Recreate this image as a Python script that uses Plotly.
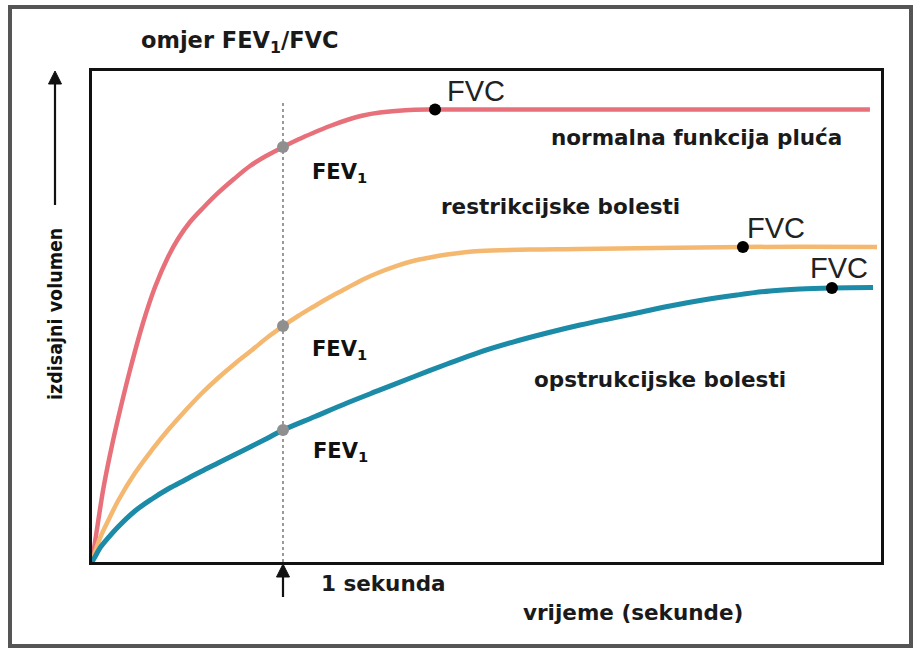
import plotly.graph_objects as go

# ---------------- data (time in seconds, exhaled volume in litres) ----------------
normal_t = [0.0, 0.031, 0.058, 0.094, 0.131, 0.199, 0.267, 0.330, 0.398, 0.450, 0.513, 0.586,
            0.660, 0.743, 0.827, 0.911, 1.0, 1.079, 1.157, 1.246, 1.335, 1.419, 1.508, 1.639,
            1.796, 4.073]
normal_v = [0.0, 0.397, 0.733, 1.090, 1.415, 1.955, 2.434, 2.800, 3.106, 3.289, 3.462, 3.615,
            3.758, 3.900, 4.033, 4.134, 4.226, 4.302, 4.369, 4.440, 4.501, 4.547, 4.577, 4.601,
            4.608, 4.608]

restr_t = [0.0, 0.042, 0.089, 0.136, 0.225, 0.314, 0.398, 0.487, 0.571, 0.660, 0.749, 0.838,
           0.921, 1.0, 1.079, 1.157, 1.246, 1.335, 1.419, 1.508, 1.592, 1.681, 1.770, 1.859,
           1.942, 2.031, 2.293, 2.555, 3.408, 4.110]
restr_v = [0.0, 0.244, 0.438, 0.621, 0.906, 1.141, 1.344, 1.538, 1.711, 1.874, 2.022, 2.159,
           2.291, 2.403, 2.505, 2.597, 2.699, 2.790, 2.877, 2.953, 3.014, 3.065, 3.101, 3.131,
           3.152, 3.167, 3.182, 3.187, 3.208, 3.208]

obstr_t = [0.0, 0.021, 0.042, 0.089, 0.136, 0.225, 0.314, 0.398, 0.487, 0.571, 0.660, 0.749,
           0.838, 0.921, 1.0, 1.168, 1.335, 1.508, 1.681, 1.859, 2.031, 2.204, 2.382, 2.555,
           2.702, 2.853, 3.026, 3.199, 3.377, 3.550, 3.707, 3.874, 4.089]
obstr_v = [0.0, 0.071, 0.143, 0.255, 0.356, 0.519, 0.642, 0.743, 0.835, 0.921, 1.008, 1.095,
           1.181, 1.263, 1.344, 1.482, 1.619, 1.752, 1.884, 2.016, 2.138, 2.240, 2.332, 2.413,
           2.475, 2.536, 2.607, 2.668, 2.719, 2.760, 2.780, 2.790, 2.795]

fev1_t = [1.0, 1.0, 1.0]
fev1_v = [4.226, 2.403, 1.344]

fvc_t = [1.796, 3.408, 3.874]
fvc_v = [4.608, 3.208, 2.790]

curve_names = ["normalna funkcija pluća", "restrikcijske bolesti", "opstrukcijske bolesti"]
curve_colors = ["#E8707A", "#F4B870", "#1B8BA8"]

# ---------------- layout helpers ----------------
W, H = 917, 653
PL, PR, PT, PB = 92, 881, 71, 562  # plot box in pixels
X_MAX = (PR - PL) / 191.0
Y_MAX = 5.0


def px(x):
    return (x - PL) / (PR - PL)


def py(y):
    return (PB - y) / (PB - PT)


fig = go.Figure()

# dotted 1-second line
fig.add_shape(type="line", xref="x", yref="y", x0=1.0, x1=1.0, y0=0, y1=py(100) * Y_MAX,
              line=dict(color="#9a9a9a", width=2, dash="dot"), layer="below")

for t, v, c, n, w in zip([normal_t, restr_t, obstr_t], [normal_v, restr_v, obstr_v],
                         curve_colors, curve_names, [4.5, 4.5, 5]):
    fig.add_trace(go.Scatter(x=t, y=v, mode="lines", name=n,
                             line=dict(color=c, width=w, shape="spline", smoothing=1.0),
                             hoverinfo="skip"))

fig.add_trace(go.Scatter(x=fev1_t, y=fev1_v, mode="markers",
                         marker=dict(color="#8f8f8f", size=12), hoverinfo="skip"))
fig.add_trace(go.Scatter(x=fvc_t, y=fvc_v, mode="markers",
                         marker=dict(color="black", size=12), hoverinfo="skip"))

# outer gray frame
fig.add_shape(type="rect", xref="paper", yref="paper",
              x0=px(10), x1=px(911), y0=py(646), y1=py(7),
              line=dict(color="#555555", width=4), fillcolor="rgba(0,0,0,0)")


# arrows drawn as shapes
def arrow_up(x, y_tail, y_tip):
    fig.add_shape(type="line", xref="paper", yref="paper",
                  x0=px(x), x1=px(x), y0=py(y_tail), y1=py(y_tip + 8),
                  line=dict(color="#111111", width=2.2))
    path = "M {} {} L {} {} L {} {} Z".format(px(x), py(y_tip), px(x - 6.5), py(y_tip + 13),
                                             px(x + 6.5), py(y_tip + 13))
    fig.add_shape(type="path", xref="paper", yref="paper", path=path,
                  fillcolor="#111111", line=dict(color="#111111", width=1))


arrow_up(55, 205, 71)
arrow_up(283, 597, 564)

BOLD = dict(family="DejaVu Sans", size=21.5, color="#1a1a1a", weight="bold")
ann = []


def txt(text, x, y, xanchor="left", font=None, textangle=0):
    ann.append(dict(text=text, x=px(x), y=py(y), xref="paper", yref="paper",
                    xanchor=xanchor, yanchor="middle", showarrow=False,
                    font=font or BOLD, textangle=textangle))


txt("omjer FEV<sub>1</sub>/FVC", 239, 42, "center",
    dict(family="DejaVu Sans", size=22.5, color="#1a1a1a", weight="bold"))
FVCF = dict(family="Liberation Sans, Arial", size=29, color="#222222")
txt("FVC", 476, 91, "center", FVCF)
txt("FVC", 776, 228, "center", FVCF)
txt("FVC", 839, 268, "center", FVCF)
FEVF = dict(family="DejaVu Sans", size=21, color="#111111", weight="bold")
txt("FEV<sub>1</sub>", 310, 173, "left", FEVF)
txt("FEV<sub>1</sub>", 310, 350, "left", FEVF)
txt("FEV<sub>1</sub>", 311, 452, "left", FEVF)
txt(curve_names[0], 549, 137, "left")
txt(curve_names[1], 439, 207, "left")
txt(curve_names[2], 532, 379, "left")
txt("1 sekunda", 319, 583, "left")
txt("vrijeme (sekunde)", 521, 612, "left")
txt("izdisajni volumen", 55, 314, "center",
    dict(family="DejaVu Sans Condensed, DejaVu Sans", size=19.5, color="#111111", weight="bold"), -90)

fig.update_layout(
    width=W, height=H, autosize=False,
    margin=dict(l=PL, r=W - PR, t=PT, b=H - PB, pad=0),
    paper_bgcolor="white", plot_bgcolor="white",
    showlegend=False, annotations=ann,
    xaxis=dict(range=[0, X_MAX], showgrid=False, zeroline=False, showticklabels=False,
               ticks="", showline=True, mirror=True, linecolor="#111111", linewidth=2.5,
               fixedrange=True),
    yaxis=dict(range=[0, Y_MAX], showgrid=False, zeroline=False, showticklabels=False,
               ticks="", showline=True, mirror=True, linecolor="#111111", linewidth=2.5,
               fixedrange=True),
)

fig.write_html("out.html", config={"displayModeBar": False},
               post_script="document.body.style.margin='0';")
